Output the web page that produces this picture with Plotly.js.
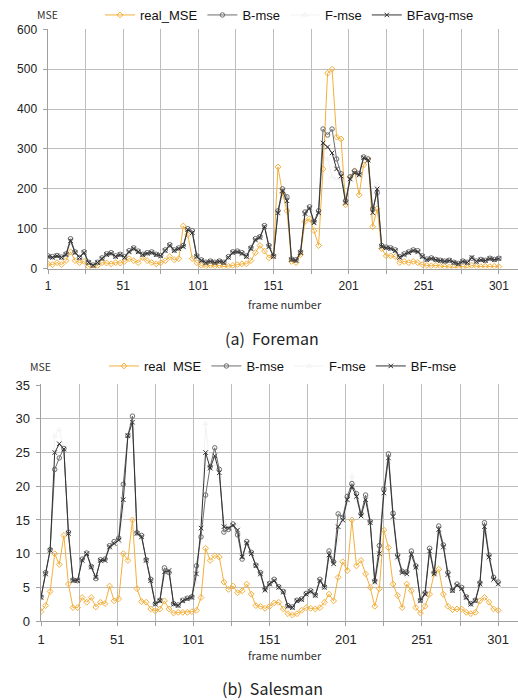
<!DOCTYPE html>
<html><head><meta charset="utf-8">
<script src="https://cdn.plot.ly/plotly-3.0.1.min.js"></script>
<style>html,body{margin:0;padding:0;background:#fff}#chart{width:518px;height:700px}</style>
</head><body><div id="chart"></div>
<script>
// frame numbers (sampled)
const frames = [1,4,7,10,13,16,19,22,25,28,31,34,37,40,43,46,49,52,55,58,61,64,67,70,73,76,79,82,85,88,91,94,97,100,103,106,109,112,115,118,121,124,127,130,133,136,139,142,145,148,151,154,157,160,163,166,169,172,175,178,181,184,187,190,193,196,199,202,205,208,211,214,217,220,223,226,229,232,235,238,241,244,247,250,253,256,259,262,265,268,271,274,277,280,283,286,289,292,295,298,301];
const xTickVals = [1,26,51,76,101,126,151,176,201,226,251,276,301];
const xTickText = ['1','','51','','101','','151','','201','','251','','301'];

// (a) Foreman
const foremanReal = [12,10,15,10,20,42,20,15,18,5,
 2,8,15,14,12,15,14,18,25,20,
 15,28,20,15,12,15,20,30,22,25,
 107,85,25,15,8,6,8,6,8,5,
 6,8,10,12,12,20,40,58,44,27,
 32,255,190,145,18,15,35,118,125,95,
 58,250,490,500,330,325,160,230,245,185,
 260,275,105,150,50,32,32,30,15,18,
 15,18,15,10,8,7,8,6,5,4,
 3,4,5,3,8,6,5,6,5,6,
 5];
const foremanB = [32,30,33,29,37,75,42,28,42,16,
 9,16,27,37,40,32,36,30,45,52,
 44,36,40,42,36,33,47,60,47,52,
 58,100,95,32,22,16,19,16,19,16,
 30,42,44,40,32,52,75,80,108,58,
 32,145,200,180,24,22,42,142,155,118,
 145,350,335,350,275,238,170,230,245,238,
 280,275,150,190,58,54,52,47,30,37,
 42,47,45,32,24,27,23,21,19,21,
 16,13,19,16,26,19,23,21,26,23,
 26];
const foremanF = [28,26,31,27,33,65,38,28,38,14,
 7,14,23,33,36,28,34,26,39,48,
 40,34,36,38,34,31,43,56,43,48,
 52,96,85,28,18,14,17,14,17,14,
 26,38,40,36,28,48,69,76,102,52,
 28,135,190,160,20,18,38,134,149,112,
 135,280,275,230,225,226,160,220,235,232,
 276,269,130,210,52,50,48,43,26,33,
 38,43,39,28,20,23,21,19,17,19,
 14,11,17,14,30,17,21,19,24,21,
 24];
const foremanBF = [30,28,32,28,35,70,40,28,40,15,
 8,15,25,35,38,30,35,28,42,50,
 42,35,38,40,35,32,45,58,45,50,
 55,98,90,30,20,15,18,15,18,15,
 28,40,42,38,30,50,72,78,105,55,
 30,140,195,170,22,20,40,138,152,115,
 140,315,305,290,250,232,165,225,240,235,
 278,272,140,200,55,52,50,45,28,35,
 40,45,42,30,22,25,22,20,18,20,
 15,12,18,15,28,18,22,20,25,22,
 25];

// (b) Salesman
const salesReal = [1.4,2.3,4.4,10,8.4,12.7,5.5,2,2,3.5,
 2.8,3.5,2.1,2.8,2.6,5.2,3,3.3,10,9,
 15,4.8,2.9,2.8,1.8,1.5,1.8,3,1.8,1.2,
 1.3,1.3,1.3,1.4,1.6,3.5,10.8,9,9.7,9.5,
 5.8,4.7,5.2,4.2,4.5,5.5,4,2.3,2.2,1.9,
 2.2,2.7,2.8,1.8,1.1,0.9,1.1,1.6,2,1.9,
 1.8,2,2.8,4,3,6.5,8.8,7.5,15,8.2,
 9,7,5,2.2,4.8,13.5,10.9,5.5,3.8,2,
 5.5,4.5,2,1.2,2.2,4,7.1,7.7,4,2.2,
 1.7,1.8,1.8,1.3,1.1,1.3,3,3.5,2.8,1.8,
 1.6];
const salesB = [3.6,7.2,10.6,22.5,24.2,25.6,13.2,6.1,6,9.2,
 10.1,8.1,6.3,9.1,9.2,11.2,11.8,12.3,20.3,27.5,
 30.4,13.1,12.7,9.1,6.2,2.6,3.1,7.9,7.2,2.6,
 2.4,3.1,3.4,3.6,8.2,12.5,18.7,22.9,25.7,22.5,
 13.2,13.6,14.4,12.8,9.2,11.8,10.2,8.3,7.2,4.8,
 5.6,6.2,5.1,4.4,2.3,2.1,3.1,3.3,4.1,4.5,
 3.9,6.2,5.1,10.4,8.8,15.9,15.4,18.5,20.4,18.9,
 15.9,18.7,14.8,6,11.2,19.6,24.8,16,9.8,7.4,
 7.3,10.4,8.2,3.1,4.2,10.8,7.2,14.1,11.3,7.2,
 4.6,5.5,5,3.6,2.6,3.1,5.7,14.6,9.8,6.5,
 5.8];
const salesF = [3.4,6.8,10.4,27.5,28.4,25.4,12.8,5.9,6,8.8,
 9.9,7.9,6.7,8.9,8.8,10.8,11.2,11.7,15.7,27.5,
 28.6,12.9,12.3,8.9,5.8,2.4,2.9,6.7,7.8,2.4,
 2.2,2.9,3.2,3.4,5.8,15.1,29.3,22.5,23.3,21.5,
 14.8,14,14,14.2,9.8,11.4,9.8,8.1,6.8,4.4,
 5.4,5.8,4.9,4.2,2.1,1.9,2.9,3.1,3.9,4.3,
 3.7,5.8,4.9,9.2,8.2,12.1,14.6,17.5,21.5,18.1,
 15.3,17.3,14.4,5.6,8.8,18.4,23.6,15,9.2,7,
 6.7,9.4,7.8,2.9,3.8,10,6.8,13.1,10.7,6.6,
 4.4,5.1,4.6,3.4,2.4,2.9,5.3,13.4,9.2,5.9,
 5.2];
const salesBF = [3.5,7,10.5,25,26.3,25.5,13,6,6,9,
 10,8,6.5,9,9,11,11.5,12,18,27.5,
 29.5,13,12.5,9,6,2.5,3,7.3,7.5,2.5,
 2.3,3,3.3,3.5,7,13.8,25,22.7,24.5,22,
 14,13.8,14.2,13.5,9.5,11.6,10,8.2,7,4.6,
 5.5,6,5,4.3,2.2,2,3,3.2,4,4.4,
 3.8,6,5,9.8,8.5,14,15,18,19.9,18.5,
 15.6,18,14.6,5.8,10,19,24.2,15.5,9.5,7.2,
 7,9.9,8,3,4,10.4,7,13.6,11,6.9,
 4.5,5.3,4.8,3.5,2.5,3,5.5,14,9.5,6.2,
 5.5];

const ORANGE = '#f3b03c', GRAYB = '#6e6e6e', FLIGHT = '#f2f2f2', DARK = '#333333';
function mk(x, y, name, color, sym, xa, ya, leg, rank, w) {
  return {x: x, y: y, name: name, type: 'scatter', mode: 'lines+markers', xaxis: xa, yaxis: ya,
    legend: leg, legendrank: rank,
    line: {color: color, width: w || 1},
    marker: {symbol: sym, size: 4.5, color: color, line: {color: color, width: 1}}};
}
const data = [
  mk(frames, foremanF, 'F-mse', FLIGHT, 'triangle-up-open', 'x', 'y', 'legend', 3),
  mk(frames, foremanReal, 'real_MSE', ORANGE, 'diamond-open', 'x', 'y', 'legend', 1),
  mk(frames, foremanB, 'B-mse', GRAYB, 'circle-open', 'x', 'y', 'legend', 2),
  mk(frames, foremanBF, 'BFavg-mse', DARK, 'x-thin-open', 'x', 'y', 'legend', 4),
  mk(frames, salesF, 'F-mse', FLIGHT, 'triangle-up-open', 'x2', 'y2', 'legend2', 3),
  mk(frames, salesReal, 'real\u00a0 MSE', ORANGE, 'diamond-open', 'x2', 'y2', 'legend2', 1),
  mk(frames, salesB, 'B-mse', GRAYB, 'circle-open', 'x2', 'y2', 'legend2', 2),
  mk(frames, salesBF, 'BF-mse', DARK, 'x-thin-open', 'x2', 'y2', 'legend2', 4)
];
const W = 518, H = 700;
const tickFont = {family: 'Liberation Sans, Arial, sans-serif', size: 12, color: '#222'};
const gridC = '#bdbdbd';
function xax(dom, rng, anchor, fs) {
  return {domain: dom, range: rng, anchor: anchor, tickmode: 'array', tickvals: xTickVals, ticktext: xTickText,
    showgrid: true, gridcolor: gridC, gridwidth: 1, zeroline: false, showline: true, linecolor: '#a0a0a0', linewidth: 1,
    ticks: 'outside', ticklen: 4, tickcolor: '#a0a0a0', tickfont: Object.assign({}, tickFont, {size: fs}), ticklabelstandoff: 2, fixedrange: true};
}
function yax(dom, rng, dt, anchor, fs) {
  return {domain: dom, range: rng, anchor: anchor, dtick: dt, tick0: 0, showgrid: true, gridcolor: gridC, gridwidth: 1,
    zeroline: false, showline: true, linecolor: '#a0a0a0', linewidth: 1.5, ticks: 'outside', ticklen: 4, tickcolor: '#a0a0a0',
    tickfont: Object.assign({}, tickFont, {size: fs}), ticklabelstandoff: 3, fixedrange: true};
}
const annFont = {family: 'Noto Sans CJK KR, Noto Sans, sans-serif', color: '#333'};
function ann(text, px, py, size, color) {
  return {text: text, xref: 'paper', yref: 'paper', x: px / W, y: 1 - py / H, xanchor: 'center', yanchor: 'middle',
    showarrow: false, font: Object.assign({}, annFont, {size: size, color: color || '#333'})};
}
const legFont = {family: 'Liberation Sans, Arial, sans-serif', size: 13, color: '#111'};
const layout = {
  width: W, height: H, margin: {l: 0, r: 0, t: 0, b: 0}, paper_bgcolor: '#fff', plot_bgcolor: '#fff',
  showlegend: true,
  xaxis: xax([48 / W, 1], [1, 313.7], 'y', 12),
  yaxis: yax([1 - 268 / H, 1 - 28 / H], [0, 601], 100, 'x', 12),
  xaxis2: xax([41 / W, 1], [1, 314], 'y2', 13),
  yaxis2: yax([1 - 621 / H, 1 - 384 / H], [0, 35.1], 5, 'x2', 13),
  legend: {orientation: 'h', x: 100 / W, y: 1 - 14 / H, xanchor: 'left', yanchor: 'middle', font: legFont,
    bgcolor: 'rgba(0,0,0,0)', itemwidth: 30, traceorder: 'normal'},
  legend2: {orientation: 'h', x: 104 / W, y: 1 - 366 / H, xanchor: 'left', yanchor: 'middle', font: legFont,
    bgcolor: 'rgba(0,0,0,0)', itemwidth: 30, traceorder: 'normal'},
  annotations: [
    ann('MSE', 47, 14, 10.5),
    ann('frame number', 285, 303, 11),
    ann('(a)  Foreman', 272, 337, 16, '#222'),
    ann('MSE', 40, 366, 10.5),
    ann('frame number', 285, 655, 11),
    ann('(b)  Salesman', 272, 688, 16, '#222')
  ]
};
Plotly.newPlot('chart', data, layout, {displayModeBar: false, staticPlot: true});
</script></body></html>
